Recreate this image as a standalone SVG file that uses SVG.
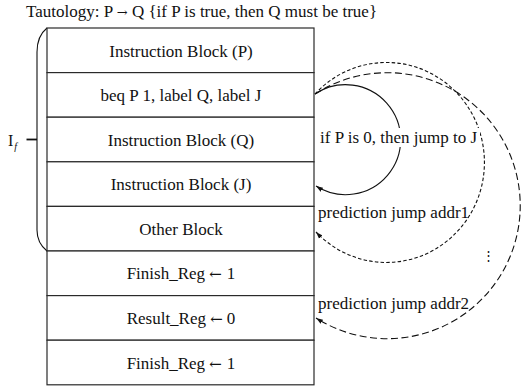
<svg xmlns="http://www.w3.org/2000/svg" width="526" height="390" viewBox="0 0 526 390">
  <defs>
    <style>
      .cell { fill: #fff; stroke: #2a2a2a; stroke-width: 1.2; }
      .lbl { font-size: 17px; text-anchor: middle; }
      .note { font-size: 17px; }
      .mask { fill: #fff; stroke: none; }
      .conn { fill: none; stroke: #111; stroke-width: 1.1; }
      .d1 { stroke-dasharray: 3.5 2.2; }
      .d2 { stroke-dasharray: 7 3.5; }
      .arw { font-family: "DejaVu Serif", serif; font-size: 15px; }
      .arwt { font-family: "DejaVu Serif", serif; font-size: 13px; }
    </style>
    <marker id="ah" markerWidth="8" markerHeight="6" refX="7" refY="3" orient="auto" markerUnits="userSpaceOnUse">
      <path d="M0,0.6 L7,3 L0,5.4 Z" fill="#111"/>
    </marker>
  </defs>
  <rect width="526" height="390" fill="#fff"/>
  <g font-family="'Liberation Serif', 'Times New Roman', Times, serif" fill="#111">

  <text id="title" x="26" y="17" font-size="17">Tautology: P <tspan class="arwt">→</tspan> Q {if P is true, then Q must be true}</text>

  <g id="brace">
    <path d="M47,28 Q37,36 37,52 L37,230 Q37,243 47,251" fill="none" stroke="#111" stroke-width="1.1"/>
    <line x1="26.5" y1="139.5" x2="37" y2="139.5" stroke="#111" stroke-width="1.8"/>
    <text x="8" y="146" font-size="16">I<tspan dx="1" dy="4" font-size="10" font-style="italic">f</tspan></text>
  </g>

  <g id="row-p"><rect class="cell" x="47" y="28" width="267" height="44.6"/><text class="lbl" x="181" y="56.5">Instruction Block (P)</text></g>
  <g id="row-beq"><rect class="cell" x="47" y="72.6" width="267" height="44.6"/><text class="lbl" x="181" y="101">beq P 1, label Q, label J</text></g>
  <g id="row-q"><rect class="cell" x="47" y="117.2" width="267" height="44.6"/><text class="lbl" x="181" y="145.5">Instruction Block (Q)</text></g>
  <g id="row-j"><rect class="cell" x="47" y="161.8" width="267" height="44.6"/><text class="lbl" x="181" y="190">Instruction Block (J)</text></g>
  <g id="row-other"><rect class="cell" x="47" y="206.4" width="267" height="44.6"/><text class="lbl" x="181" y="234.5">Other Block</text></g>
  <g id="row-finish1"><rect class="cell" x="47" y="251" width="267" height="44.6"/><text class="lbl" x="181" y="279">Finish_Reg <tspan class="arw">←</tspan><tspan dx="5">1</tspan></text></g>
  <g id="row-result"><rect class="cell" x="47" y="295.6" width="267" height="44.6"/><text class="lbl" x="181" y="324">Result_Reg <tspan class="arw">←</tspan><tspan dx="4">0</tspan></text></g>
  <g id="row-finish2"><rect class="cell" x="47" y="340.2" width="267" height="44.6"/><text class="lbl" x="181" y="368.5">Finish_Reg <tspan class="arw">←</tspan><tspan dx="5">1</tspan></text></g>

  <g id="connectors">
    <path class="conn d2" d="M315,94 A133,133 0 1 1 316,318" marker-end="url(#ah)"/>
    <path class="conn d1" d="M315,94 A98,100 0 1 1 316,232" marker-end="url(#ah)"/>
    <path class="conn" d="M315,94 A55,55 0 1 1 316,186" marker-end="url(#ah)"/>
  </g>

  <g id="labels">
    <rect class="mask" x="319" y="128" width="161" height="19"/>
    <text class="note" x="320" y="143">if P is 0, then jump to J</text>
    <text class="note" x="318" y="218">prediction jump addr1</text>
    <text class="note" x="318" y="309">prediction jump addr2</text>
    <text x="482" y="260" font-size="13">⋮</text>
  </g>
  </g>
</svg>
